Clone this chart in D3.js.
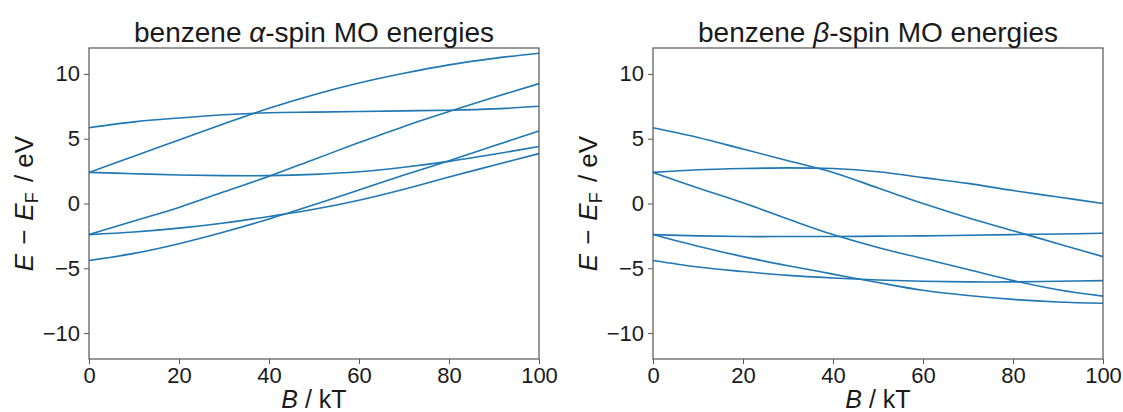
<!DOCTYPE html>
<html>
<head>
<meta charset="utf-8">
<script src="https://cdn.jsdelivr.net/npm/d3@7"></script>
<style>
  body { margin: 0; background: #fff; }
  text { font-family: "Liberation Sans", Arial, sans-serif; fill: #1a1a1a; }
  .axis path, .axis line { stroke: #555; }
</style>
</head>
<body>
<div id="chart"></div>
<script>
(function() {
  var fieldB = [0, 10, 20, 30, 40, 50, 60, 70, 80, 90, 100]

  // alpha-spin orbital energies (eV), one array per orbital
  var alpha1 = [2.4, 3.65, 4.9, 6.15, 7.35, 8.4, 9.3, 10.05, 10.7, 11.2, 11.6]
  var alpha2 = [5.85, 6.3, 6.6, 6.85, 7.0, 7.05, 7.1, 7.15, 7.2, 7.3, 7.5]
  var alpha3 = [-2.4, -1.35, -0.3, 0.9, 2.1, 3.4, 4.7, 5.95, 7.1, 8.2, 9.25]
  var alpha4 = [2.4, 2.3, 2.2, 2.15, 2.15, 2.25, 2.45, 2.8, 3.25, 3.8, 4.4]
  var alpha5 = [-2.4, -2.2, -1.9, -1.5, -1.0, -0.45, 0.25, 1.1, 2.05, 2.95, 3.85]
  var alpha6 = [-4.4, -3.85, -3.1, -2.2, -1.2, -0.1, 1.05, 2.2, 3.3, 4.45, 5.6]

  // beta-spin orbital energies (eV)
  var beta1 = [5.85, 5.1, 4.2, 3.3, 2.4, 1.2, 0.0, -1.1, -2.1, -3.1, -4.1]
  var beta2 = [2.4, 2.6, 2.7, 2.75, 2.7, 2.45, 2.0, 1.55, 1.0, 0.5, 0.0]
  var beta3 = [2.4, 1.2, 0.05, -1.2, -2.4, -3.4, -4.25, -5.1, -5.95, -6.65, -7.15]
  var beta4 = [-2.4, -2.5, -2.55, -2.55, -2.55, -2.52, -2.5, -2.45, -2.4, -2.35, -2.3]
  var beta5 = [-2.4, -3.3, -4.1, -4.8, -5.45, -6.1, -6.7, -7.1, -7.4, -7.6, -7.7]
  var beta6 = [-4.4, -4.9, -5.25, -5.55, -5.75, -5.9, -6.0, -6.05, -6.05, -6.0, -5.95]

  var xTicks = [0, 20, 40, 60, 80, 100]
  var yTicks = [-10, -5, 0, 5, 10]

  var panels = [
    { left: 89, title: "α", series: [alpha1, alpha2, alpha3, alpha4, alpha5, alpha6] },
    { left: 653, title: "β", series: [beta1, beta2, beta3, beta4, beta5, beta6] }
  ]

  var top = 48, plotH = 311, plotW = 450

  var svg = d3.select("#chart")
    .append("svg")
    .attr("width", 1123)
    .attr("height", 412)

  var xPositionScale = d3.scaleLinear().domain([0, 100]).range([0, plotW])
  var yPositionScale = d3.scaleLinear().domain([-12, 12]).range([plotH, 0])

  var line = d3.line()
    .x(function(d, i) { return xPositionScale(fieldB[i]) })
    .y(function(d) { return yPositionScale(d) })
    .curve(d3.curveCatmullRom)

  panels.forEach(function(p) {
    var g = svg.append("g")
      .attr("transform", "translate(" + p.left + "," + top + ")")

    g.selectAll(".mo")
      .data(p.series)
      .enter().append("path")
      .attr("class", "mo")
      .attr("d", line)
      .attr("fill", "none")
      .attr("stroke", "#1f77b4")
      .attr("stroke-width", 1.6)

    // frame
    g.append("rect")
      .attr("width", plotW)
      .attr("height", plotH)
      .attr("fill", "none")
      .attr("stroke", "#555")
      .attr("stroke-width", 1.2)

    var xAxis = d3.axisBottom(xPositionScale).tickValues(xTicks).tickSize(5).tickPadding(3)
    g.append("g")
      .attr("class", "axis x-axis")
      .attr("transform", "translate(0," + plotH + ")")
      .call(xAxis)
      .call(function(s) { s.select(".domain").remove() })
      .selectAll("text").style("font-size", "22px")

    var yAxis = d3.axisLeft(yPositionScale).tickValues(yTicks).tickSize(5).tickPadding(4)
    g.append("g")
      .attr("class", "axis y-axis")
      .call(yAxis)
      .call(function(s) { s.select(".domain").remove() })
      .selectAll("text").style("font-size", "22px")

    var title = g.append("text")
      .attr("x", plotW / 2)
      .attr("y", -6)
      .attr("text-anchor", "middle")
      .style("font-size", "28px")
    title.append("tspan").text("benzene ")
    title.append("tspan").style("font-style", "italic").text(p.title)
    title.append("tspan").text("-spin MO energies")

    var xl = g.append("text")
      .attr("x", plotW / 2)
      .attr("y", plotH + 49)
      .attr("text-anchor", "middle")
      .style("font-size", "25px")
    xl.append("tspan").style("font-style", "italic").text("B")
    xl.append("tspan").text(" / kT")

    // math-style spacing around the minus sign
    var yl = g.append("text")
      .attr("transform", "translate(-56," + (plotH / 2) + ") rotate(-90)")
      .attr("text-anchor", "middle")
      .style("font-size", "26px")
    yl.append("tspan").style("font-style", "italic").text("E")
    yl.append("tspan").attr("dx", 9).text("−")
    yl.append("tspan").attr("dx", 9).style("font-style", "italic").text("E")
    yl.append("tspan").attr("dy", 5).style("font-size", "18px").text("F")
    yl.append("tspan").attr("dy", -5).attr("dx", 3).text(" / eV")
  })
})();
</script>
</body>
</html>
